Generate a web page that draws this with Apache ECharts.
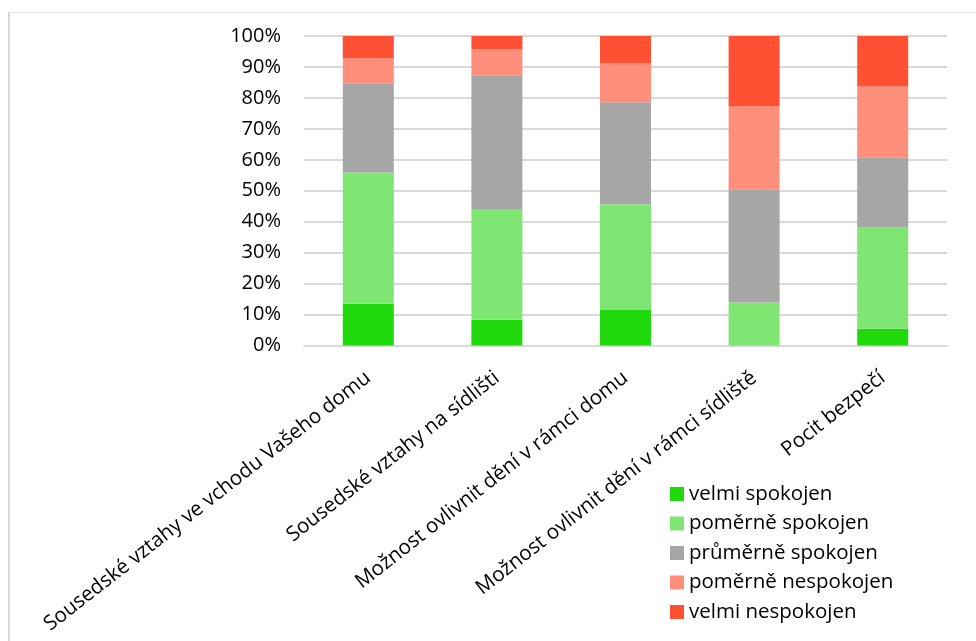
<!DOCTYPE html>
<html>
<head>
<meta charset="utf-8">
<script src="https://cdn.jsdelivr.net/npm/echarts@6/dist/echarts.min.js"></script>
<style>
  html, body { margin: 0; padding: 0; background: #fff; }
  #chart { width: 976px; height: 641px; }
</style>
</head>
<body>
<div id="chart"></div>
<script>
// Survey categories (x axis)
const categories = [
  'Sousedské vztahy ve vchodu Vašeho domu',
  'Sousedské vztahy na sídlišti',
  'Možnost ovlivnit dění v rámci domu',
  'Možnost ovlivnit dění v rámci sídliště',
  'Pocit bezpečí'
];

// Share of answers per category, in percent
const velmiSpokojen     = [13.5, 8.3, 11.5, 0.0, 5.4];
const pomerneSpokojen   = [42.4, 35.8, 34.1, 13.9, 32.9];
const prumerneSpokojen  = [28.8, 43.2, 33.0, 36.6, 22.5];
const pomerneNespokojen = [8.2, 8.5, 12.7, 26.9, 22.9];
const velmiNespokojen   = [7.1, 4.2, 8.7, 22.6, 16.3];

const seriesNames = [
  'velmi spokojen',
  'poměrně spokojen',
  'průměrně spokojen',
  'poměrně nespokojen',
  'velmi nespokojen'
];
const seriesValues = [velmiSpokojen, pomerneSpokojen, prumerneSpokojen, pomerneNespokojen, velmiNespokojen];
const seriesColors = ['#1fd90d', '#80e673', '#a6a6a6', '#ff8f7b', '#ff5034'];

const FONT = '"Open Sans", sans-serif';

const chart = echarts.init(document.getElementById('chart'), null, { renderer: 'canvas' });

chart.setOption({
  animation: false,
  backgroundColor: '#ffffff',
  textStyle: { fontFamily: FONT },
  graphic: [
    // chart area frame (top and left edges)
    { type: 'line', shape: { x1: 8, y1: 12.5, x2: 976, y2: 12.5 }, style: { stroke: '#e3e3e3', lineWidth: 1 }, silent: true },
    { type: 'line', shape: { x1: 9, y1: 12, x2: 9, y2: 641 }, style: { stroke: '#d9d9d9', lineWidth: 2 }, silent: true }
  ],
  grid: { left: 304, right: 29, top: 36, bottom: 295.5, containLabel: false },
  legend: {
    orient: 'vertical',
    left: 665,
    top: 477,
    itemWidth: 14,
    itemHeight: 14,
    itemGap: 5.5,
    icon: 'rect',
    data: seriesNames,
    textStyle: { fontFamily: FONT, fontSize: 20.5, color: '#000', lineHeight: 24 }
  },
  xAxis: {
    type: 'category',
    data: categories,
    axisLine: { show: true, lineStyle: { color: '#d9d9d9', width: 2 } },
    axisTick: { show: false },
    axisLabel: {
      interval: 0,
      rotate: 38,
      margin: 30,
      fontFamily: FONT,
      fontSize: 20.5,
      color: '#000'
    }
  },
  yAxis: {
    type: 'value',
    min: 0,
    max: 100,
    interval: 10,
    axisLine: { show: false },
    axisTick: { show: false },
    splitLine: { lineStyle: { color: '#d9d9d9', width: 2 } },
    axisLabel: {
      formatter: '{value}%',
      margin: 23,
      fontFamily: FONT,
      fontSize: 20,
      color: '#000'
    }
  },
  series: seriesNames.map((name, i) => ({
    name: name,
    type: 'bar',
    stack: 'total',
    barWidth: 51,
    data: seriesValues[i],
    itemStyle: { color: seriesColors[i] }
  }))
});
</script>
</body>
</html>
